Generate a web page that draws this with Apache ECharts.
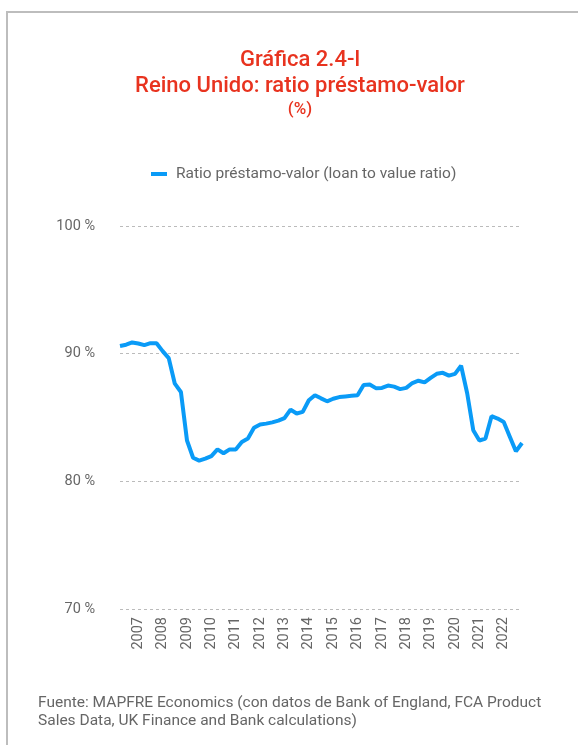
<!DOCTYPE html>
<html><head><meta charset="utf-8">
<script src="https://cdn.jsdelivr.net/npm/echarts@6/dist/echarts.min.js"></script>
<style>html,body{margin:0;padding:0;background:#fff}#c{width:578px;height:745px}</style>
</head><body><div id="c"></div>
<script>
// Quarterly categories 2006Q2 .. 2022Q4
const quarters = [];
for (let y = 2006; y <= 2022; y++) for (let q = 1; q <= 4; q++) { if (y === 2006 && q === 1) continue; quarters.push(y + 'Q' + q); }
const ltvValues = [
  90.6, 90.7, 90.88, 90.8, 90.67, 90.82, 90.82, 90.2, 89.65, 87.65,
  87.0, 83.2, 81.85, 81.62, 81.78, 81.98, 82.5, 82.2, 82.5, 82.5,
  83.08, 83.35, 84.2, 84.45, 84.52, 84.62, 84.75, 84.95, 85.62, 85.31,
  85.44, 86.35, 86.75, 86.5, 86.27, 86.47, 86.6, 86.65, 86.7, 86.75,
  87.55, 87.58, 87.3, 87.32, 87.5, 87.42, 87.22, 87.32, 87.7, 87.88,
  87.75, 88.1, 88.42, 88.5, 88.28, 88.42, 89.05, 86.9, 84.0, 83.2,
  83.35, 85.1, 84.92, 84.65, 83.5, 82.35, 83.0
];
const seriesName = 'Ratio préstamo-valor (loan to value ratio)';
const titleLines = ['Gráfica 2.4-l', 'Reino Unido: ratio préstamo-valor'];
const titleUnit = '(%)';
const sourceText = 'Fuente: MAPFRE Economics (con datos de Bank of England, FCA Product\nSales Data, UK Finance and Bank calculations)';

const chart = echarts.init(document.getElementById('c'), null, {renderer: 'canvas'});
const red = '#e8331f';
chart.setOption({
  animation: false,
  textStyle: {fontFamily: 'Roboto'},
  graphic: [
    {type: 'polyline', shape: {points: [[7, 745], [7, 12], [578, 12]]}, style: {stroke: '#bdbdbd', lineWidth: 2, fill: null}},
    {type: 'text', left: 38, top: 694, style: {text: sourceText, fill: '#666', font: '15.5px Roboto', lineHeight: 18}}
  ],
  title: [
    {text: titleLines.join('\n'), left: 295, top: 42, textAlign: 'center',
     textStyle: {color: red, fontSize: 22, fontWeight: 500, lineHeight: 26, fontFamily: 'Roboto'}},
    {text: titleUnit, left: 295, top: 96, textAlign: 'center',
     textStyle: {color: red, fontSize: 17, fontWeight: 500, fontFamily: 'Roboto'}}
  ],
  legend: {
    top: 161, left: 146, icon: 'rect', itemWidth: 16, itemHeight: 4, itemGap: 10,
    textStyle: {color: '#666', fontSize: 15.5, fontFamily: 'Roboto', padding: [0, 0, 0, 4]},
    data: [seriesName]
  },
  grid: {left: 120, right: 56, top: 226, bottom: 136, containLabel: false},
  xAxis: {
    type: 'category', data: quarters, boundaryGap: false,
    axisLine: {show: false}, axisTick: {show: false},
    axisLabel: {
      rotate: 90, margin: 8, color: '#666', fontSize: 14.5,
      interval: (i, v) => v.endsWith('Q1'),
      formatter: v => v.slice(0, 4)
    },
    splitLine: {show: false}
  },
  yAxis: {
    type: 'value', min: 70, max: 100, interval: 10,
    axisLine: {show: false}, axisTick: {show: false},
    axisLabel: {formatter: '{value} %', color: '#666', fontSize: 14.5, margin: 25},
    splitLine: {lineStyle: {color: '#bbb', type: [3, 3], width: 1}}
  },
  series: [{
    name: seriesName, type: 'line', data: ltvValues, symbol: 'none',
    lineStyle: {color: '#0a9bf7', width: 4}, itemStyle: {color: '#0a9bf7'}
  }]
});
</script></body></html>
